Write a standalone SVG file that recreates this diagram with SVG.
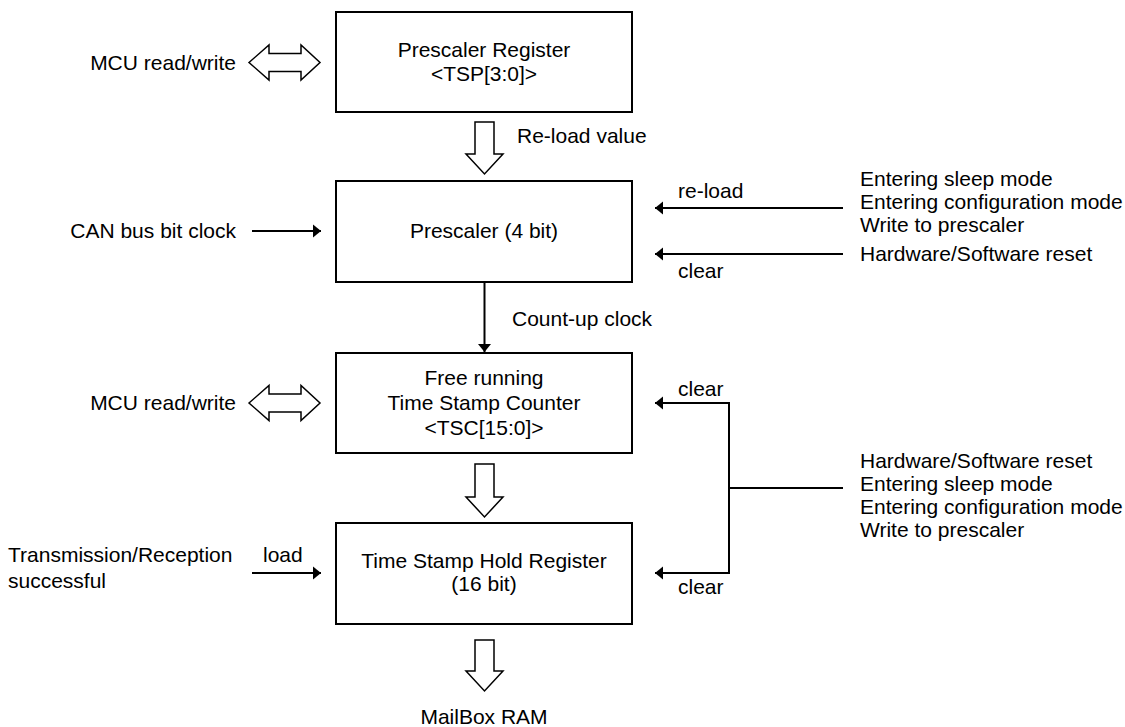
<svg xmlns="http://www.w3.org/2000/svg" width="1125" height="727" viewBox="0 0 1125 727">
<style>
text{font-family:"Liberation Sans",Arial,sans-serif;font-size:21px;fill:#000}
.c{text-anchor:middle}
.e{text-anchor:end}
.box{fill:#fff;stroke:#000;stroke-width:2}
.hollow{fill:#fff;stroke:#000;stroke-width:1.5;stroke-linejoin:miter}
.ln{fill:none;stroke:#000;stroke-width:2}
.arr{marker-end:url(#ah)}
</style>
<defs>
<marker id="ah" markerUnits="userSpaceOnUse" markerWidth="10" markerHeight="14" viewBox="0 0 10 14" refX="9" refY="7" orient="auto">
<path d="M1,0.5 L9,7 L1,13.5 Z" fill="#000"/>
</marker>
</defs>
<rect width="1125" height="727" fill="#fff"/>

<g id="prescaler-register">
<rect class="box" x="336" y="12" width="296" height="100"/>
<text class="c" x="484" y="57">Prescaler Register</text>
<text class="c" x="484" y="81">&lt;TSP[3:0]&gt;</text>
</g>

<g id="prescaler">
<rect class="box" x="336" y="181" width="296" height="101"/>
<text class="c" x="484" y="238">Prescaler (4 bit)</text>
</g>

<g id="counter">
<rect class="box" x="336" y="353" width="296" height="100"/>
<text class="c" x="484" y="385">Free running</text>
<text class="c" x="484" y="410">Time Stamp Counter</text>
<text class="c" x="484" y="435">&lt;TSC[15:0]&gt;</text>
</g>

<g id="hold-register">
<rect class="box" x="336" y="523" width="296" height="101"/>
<text class="c" x="484" y="568">Time Stamp Hold Register</text>
<text class="c" x="484" y="591">(16 bit)</text>
</g>

<g id="labels">
<text class="e" x="236" y="70">MCU read/write</text>
<text class="e" x="236" y="238">CAN bus bit clock</text>
<text class="e" x="236" y="410">MCU read/write</text>
<text x="8" y="562">Transmission/Reception</text>
<text x="8" y="588">successful</text>
<text x="263" y="562">load</text>
<text x="517" y="143">Re-load value</text>
<text x="512" y="326">Count-up clock</text>
<text x="678" y="198">re-load</text>
<text x="678" y="278">clear</text>
<text x="678" y="396">clear</text>
<text x="678" y="594">clear</text>
<text x="860" y="186">Entering sleep mode</text>
<text x="860" y="209">Entering configuration mode</text>
<text x="860" y="232">Write to prescaler</text>
<text x="860" y="261">Hardware/Software reset</text>
<text x="860" y="468">Hardware/Software reset</text>
<text x="860" y="491">Entering sleep mode</text>
<text x="860" y="514">Entering configuration mode</text>
<text x="860" y="537">Write to prescaler</text>
<text class="c" x="484" y="724">MailBox RAM</text>
</g>

<g id="connectors">
<path class="hollow" d="M249,62.5 L269,45 L269,53.5 L301,53.5 L301,45 L320,62.5 L301,80 L301,71.5 L269,71.5 L269,80 Z"/>
<path class="hollow" d="M249,403 L269,385.5 L269,394 L301,394 L301,385.5 L320,403 L301,420.5 L301,412 L269,412 L269,420.5 Z"/>
<path class="hollow" d="M475,122 L494,122 L494,154 L503,154 L484.5,174 L466,154 L475,154 Z"/>
<path class="hollow" d="M475,464 L494,464 L494,497 L503,497 L484.5,517 L466,497 L475,497 Z"/>
<path class="hollow" d="M475,640 L494,640 L494,671 L503,671 L484.5,691 L466,671 L475,671 Z"/>
<line class="ln arr" x1="252" y1="231" x2="321" y2="231"/>
<line class="ln arr" x1="252" y1="573" x2="321" y2="573"/>
<line class="ln arr" x1="484.5" y1="282" x2="484.5" y2="352"/>
<line class="ln arr" x1="843" y1="208" x2="655" y2="208"/>
<line class="ln arr" x1="843" y1="254" x2="655" y2="254"/>
<path class="ln arr" d="M729,488 L729,403 L655,403"/>
<path class="ln arr" d="M729,488 L729,573 L655,573"/>
<line class="ln" x1="729" y1="488" x2="843" y2="488"/>
</g>
</svg>
